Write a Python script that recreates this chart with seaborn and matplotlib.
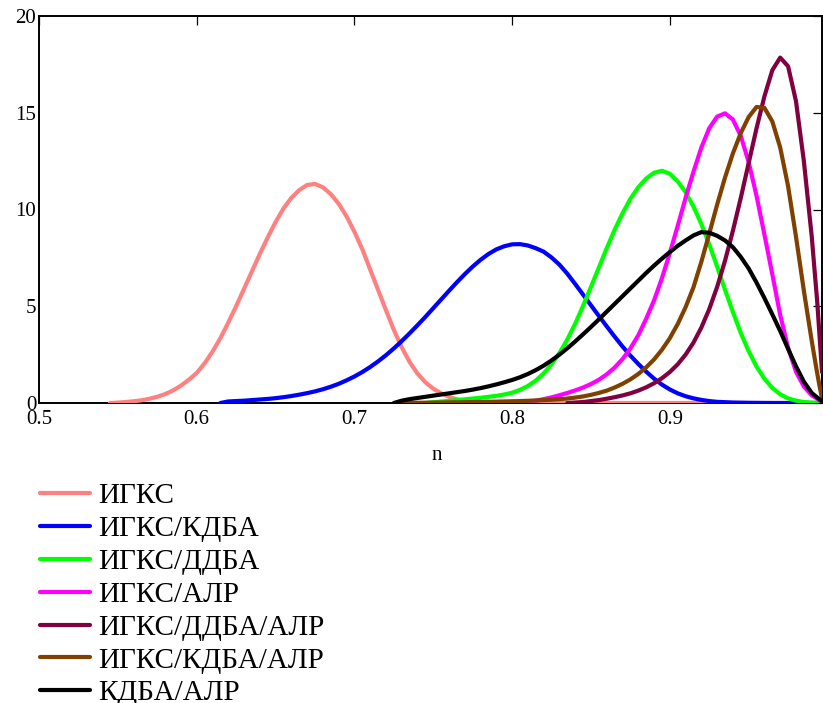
import numpy as np
import pandas as pd
import matplotlib
matplotlib.use("Agg")
import matplotlib.pyplot as plt
import seaborn as sns

# Distribution curves f(n) for each system
names = ["ИГКС", "ИГКС/КДБА", "ИГКС/ДДБА", "ИГКС/АЛР",
         "ИГКС/ДДБА/АЛР", "ИГКС/КДБА/АЛР", "КДБА/АЛР"]
colors = ["#FF8080", "#0000FF", "#00FF00", "#FF00FF",
          "#800040", "#804000", "#000000"]

igks_n = [0.545, 0.550, 0.555, 0.560, 0.565, 0.570, 0.575, 0.580, 0.585, 0.590,
          0.595, 0.600, 0.605, 0.610, 0.615, 0.620, 0.625, 0.630, 0.635, 0.640,
          0.645, 0.650, 0.655, 0.660, 0.665, 0.670, 0.675, 0.680, 0.685, 0.690,
          0.695, 0.700, 0.705, 0.710, 0.715, 0.720, 0.725, 0.730, 0.735, 0.740,
          0.745, 0.750, 0.755, 0.760, 0.765, 0.770, 0.775, 0.780, 0.790, 1.000]
igks_f = [0.00, 0.02, 0.05, 0.09, 0.14, 0.22, 0.32, 0.46, 0.65, 0.90,
          1.20, 1.55, 2.05, 2.65, 3.35, 4.15, 5.00, 5.90, 6.80, 7.70,
          8.55, 9.35, 10.05, 10.60, 11.00, 11.27, 11.32, 11.15, 10.80, 10.30,
          9.65, 8.85, 7.95, 6.90, 5.85, 4.80, 3.78, 2.88, 2.12, 1.52,
          1.07, 0.74, 0.50, 0.32, 0.19, 0.10, 0.05, 0.02, 0.00, 0.00]

kdba_n = [0.615, 0.620, 0.625, 0.630, 0.635, 0.640, 0.645, 0.650, 0.655, 0.660,
          0.665, 0.670, 0.675, 0.680, 0.685, 0.690, 0.695, 0.700, 0.705, 0.710,
          0.715, 0.720, 0.725, 0.730, 0.735, 0.740, 0.745, 0.750, 0.755, 0.760,
          0.765, 0.770, 0.775, 0.780, 0.785, 0.790, 0.795, 0.800, 0.805, 0.810,
          0.815, 0.820, 0.825, 0.830, 0.835, 0.840, 0.845, 0.850, 0.855, 0.860,
          0.865, 0.870, 0.875, 0.880, 0.885, 0.890, 0.895, 0.900, 0.905, 0.910,
          0.915, 0.920, 0.925, 0.930, 0.940, 0.950, 0.965, 1.000]
kdba_f = [0.00, 0.08, 0.10, 0.12, 0.15, 0.18, 0.21, 0.25, 0.30, 0.36,
          0.43, 0.51, 0.60, 0.71, 0.84, 0.99, 1.17, 1.37, 1.60, 1.86,
          2.15, 2.47, 2.82, 3.20, 3.60, 4.02, 4.45, 4.90, 5.35, 5.80,
          6.24, 6.66, 7.05, 7.40, 7.70, 7.94, 8.10, 8.20, 8.21, 8.14,
          8.00, 7.82, 7.52, 7.15, 6.68, 6.15, 5.60, 5.05, 4.50, 3.96,
          3.43, 2.92, 2.45, 2.02, 1.62, 1.26, 0.95, 0.70, 0.50, 0.35,
          0.24, 0.16, 0.10, 0.06, 0.025, 0.01, 0.00, 0.00]

ddba_n = [0.745, 0.750, 0.760, 0.770, 0.780, 0.785, 0.790, 0.795, 0.800, 0.805,
          0.810, 0.815, 0.820, 0.825, 0.830, 0.835, 0.840, 0.845, 0.850, 0.855,
          0.860, 0.865, 0.870, 0.875, 0.880, 0.885, 0.890, 0.895, 0.900, 0.905,
          0.910, 0.915, 0.920, 0.925, 0.930, 0.935, 0.940, 0.945, 0.950, 0.955,
          0.960, 0.965, 0.970, 0.975, 0.980, 0.985, 0.990, 0.997]
ddba_f = [0.00, 0.04, 0.11, 0.19, 0.27, 0.32, 0.37, 0.44, 0.53, 0.68,
          0.88, 1.16, 1.53, 2.00, 2.58, 3.28, 4.10, 5.02, 6.00, 7.00,
          8.00, 8.95, 9.80, 10.55, 11.15, 11.60, 11.90, 12.00, 11.85, 11.45,
          10.90, 10.15, 9.25, 8.20, 7.05, 5.85, 4.70, 3.62, 2.68, 1.88,
          1.25, 0.78, 0.45, 0.24, 0.12, 0.05, 0.02, 0.00]

alr_n = [0.805, 0.810, 0.815, 0.820, 0.825, 0.830, 0.835, 0.840, 0.845, 0.850,
         0.855, 0.860, 0.865, 0.870, 0.875, 0.880, 0.885, 0.890, 0.895, 0.900,
         0.905, 0.910, 0.915, 0.920, 0.925, 0.930, 0.935, 0.940, 0.945, 0.950,
         0.955, 0.960, 0.965, 0.970, 0.975, 0.980, 0.985, 0.990, 0.995, 0.998]
alr_f = [0.00, 0.06, 0.12, 0.20, 0.29, 0.40, 0.52, 0.65, 0.80, 0.98,
         1.20, 1.48, 1.83, 2.27, 2.82, 3.50, 4.35, 5.30, 6.45, 7.75,
         9.15, 10.60, 11.95, 13.20, 14.20, 14.80, 14.97, 14.65, 13.80, 12.45,
         10.70, 8.70, 6.65, 4.55, 2.85, 1.62, 0.85, 0.40, 0.13, 0.04]

ddba_alr_n = [0.835, 0.845, 0.855, 0.860, 0.865, 0.870, 0.875, 0.880, 0.885, 0.890,
              0.895, 0.900, 0.905, 0.910, 0.915, 0.920, 0.925, 0.930, 0.935, 0.940,
              0.945, 0.950, 0.955, 0.960, 0.965, 0.970, 0.975, 0.980, 0.985, 0.990,
              0.9935, 0.9965]
ddba_alr_f = [0.00, 0.05, 0.15, 0.22, 0.30, 0.39, 0.50, 0.64, 0.81, 1.02,
              1.28, 1.60, 2.00, 2.50, 3.12, 3.90, 4.85, 6.00, 7.35, 8.90,
              10.60, 12.40, 14.20, 15.85, 17.20, 17.85, 17.40, 15.60, 12.50, 8.60,
              5.20, 1.60]

kdba_alr3_n = [0.730, 0.750, 0.770, 0.790, 0.805, 0.815, 0.825, 0.835, 0.840, 0.845,
               0.850, 0.855, 0.860, 0.865, 0.870, 0.875, 0.880, 0.885, 0.890, 0.895,
               0.900, 0.905, 0.910, 0.915, 0.920, 0.925, 0.930, 0.935, 0.940, 0.945,
               0.950, 0.955, 0.960, 0.965, 0.970, 0.975, 0.980, 0.985, 0.990, 0.993,
               0.995, 0.9965]
kdba_alr3_f = [0.00, 0.02, 0.04, 0.07, 0.10, 0.13, 0.17, 0.23, 0.28, 0.34,
               0.42, 0.52, 0.64, 0.80, 0.99, 1.22, 1.50, 1.84, 2.25, 2.75,
               3.35, 4.08, 4.95, 5.98, 7.30, 8.75, 10.25, 11.65, 12.90, 13.95,
               14.78, 15.30, 15.25, 14.55, 13.20, 11.20, 8.60, 5.80, 3.20, 1.75,
               0.85, 0.25]

kdba_alr_n = [0.725, 0.730, 0.735, 0.740, 0.745, 0.750, 0.755, 0.760, 0.765, 0.770,
              0.775, 0.780, 0.785, 0.790, 0.795, 0.800, 0.805, 0.810, 0.815, 0.820,
              0.825, 0.830, 0.835, 0.840, 0.845, 0.850, 0.855, 0.860, 0.865, 0.870,
              0.875, 0.880, 0.885, 0.890, 0.895, 0.900, 0.905, 0.910, 0.915, 0.920,
              0.925, 0.930, 0.935, 0.940, 0.945, 0.950, 0.955, 0.960, 0.965, 0.970,
              0.975, 0.980, 0.985, 0.990, 0.995, 0.9965]
kdba_alr_f = [0.00, 0.12, 0.20, 0.26, 0.32, 0.38, 0.44, 0.50, 0.56, 0.62,
              0.69, 0.77, 0.86, 0.96, 1.07, 1.19, 1.33, 1.50, 1.70, 1.93,
              2.20, 2.50, 2.83, 3.18, 3.55, 3.93, 4.32, 4.72, 5.12, 5.52,
              5.92, 6.32, 6.72, 7.10, 7.46, 7.80, 8.12, 8.40, 8.66, 8.83,
              8.80, 8.64, 8.40, 8.05, 7.55, 6.95, 6.22, 5.42, 4.58, 3.72,
              2.80, 1.90, 1.10, 0.52, 0.18, 0.10]

series_n = [igks_n, kdba_n, ddba_n, alr_n, ddba_alr_n, kdba_alr3_n, kdba_alr_n]
series_f = [igks_f, kdba_f, ddba_f, alr_f, ddba_alr_f, kdba_alr3_f, kdba_alr_f]

x_ticks = [0.5, 0.6, 0.7, 0.8, 0.9]
y_ticks = [0, 5, 10, 15, 20]

frames = []
for name, xs, ys in zip(names, series_n, series_f):
    frames.append(pd.DataFrame({"n": xs, "f": ys, "series": name}))
df = pd.concat(frames, ignore_index=True)

sns.set_theme(style="white", rc={"text.color": "black",
                                 "axes.labelcolor": "black",
                                 "xtick.color": "black",
                                 "ytick.color": "black"})
plt.rcParams["font.family"] = ["Liberation Serif", "DejaVu Serif"]

W, H = 823, 703
fig = plt.figure(figsize=(W / 100, H / 100), dpi=100)
x0, x1, y_top, y_bot = 39, 822, 16, 403
ax = fig.add_axes([x0 / W, 1 - y_bot / H, (x1 - x0) / W, (y_bot - y_top) / H])

sns.lineplot(data=df, x="n", y="f", hue="series", hue_order=names,
             palette=dict(zip(names, colors)), estimator=None, sort=False,
             linewidth=3.0, ax=ax, legend=False, zorder=3)

ax.set_xlim(0.5, 0.9965)
ax.set_ylim(0, 20)
ax.set_xticks(x_ticks)
ax.set_xticklabels([f"{v:g}" for v in x_ticks])
ax.set_yticks(y_ticks)
ax.set_yticklabels([str(v) for v in y_ticks])
ax.tick_params(axis="both", direction="in", length=6.5, width=0.9,
               color="black", labelsize=15, labelcolor="black",
               top=True, right=True)
ax.tick_params(axis="x", pad=5)
ax.tick_params(axis="y", pad=2)
for s in ax.spines.values():
    s.set_color("black")
    s.set_linewidth(1.4)
    s.set_zorder(2)

ax.set_ylabel("")
ax.set_xlabel("n", fontsize=15, color="black")
ax.xaxis.set_label_coords((437 - x0) / (x1 - x0), -(455 - y_bot) / (y_bot - y_top))
ax.xaxis.label.set_va("center")

handles = ax.get_lines()[:len(names)]
leg = fig.legend(handles, names, loc="upper left",
                 bbox_to_anchor=(40 / W, 1 - 483 / H), bbox_transform=fig.transFigure,
                 frameon=False, fontsize=21, handlelength=1.72, handletextpad=0.28,
                 labelspacing=0.22, borderpad=0, borderaxespad=0)
for t in leg.get_texts():
    t.set_color("black")

fig.savefig("out.png", dpi=100, facecolor="white")
